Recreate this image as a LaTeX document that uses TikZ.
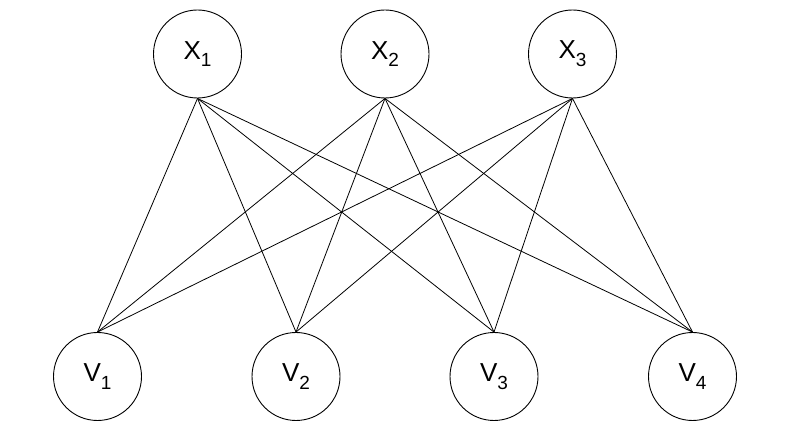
\documentclass[tikz,border=0pt]{standalone}
\usepackage{fontspec}
\setmainfont{Liberation Sans}
\newcommand{\lbl}[2]{#1\raisebox{-0.3em}{\fontsize{19pt}{19pt}\selectfont #2}}
\begin{document}
\begin{tikzpicture}[x=1pt,y=-1pt,
  vtx/.style={draw,circle,line width=0.9pt,minimum size=88pt,inner sep=0pt,font=\fontsize{26pt}{26pt}\selectfont},
  edge/.style={line width=0.8pt}]
\useasboundingbox (0,0) rectangle (806,435);
\node[vtx] (x1) at (197.5,54) {\lbl{X}{1}};
\node[vtx] (x2) at (385,54) {\lbl{X}{2}};
\node[vtx] (x3) at (572.5,54) {\lbl{X}{3}};
\node[vtx] (v1) at (97.5,376.5) {\lbl{V}{1}};
\node[vtx] (v2) at (296,376.5) {\lbl{V}{2}};
\node[vtx] (v3) at (494,376.5) {\lbl{V}{3}};
\node[vtx] (v4) at (692.5,376.5) {\lbl{V}{4}};
\foreach \a in {x1,x2,x3}{
  \foreach \b in {v1,v2,v3,v4}{
    \draw[edge] (\a.south) -- (\b.north);
  }
}
\end{tikzpicture}
\end{document}
